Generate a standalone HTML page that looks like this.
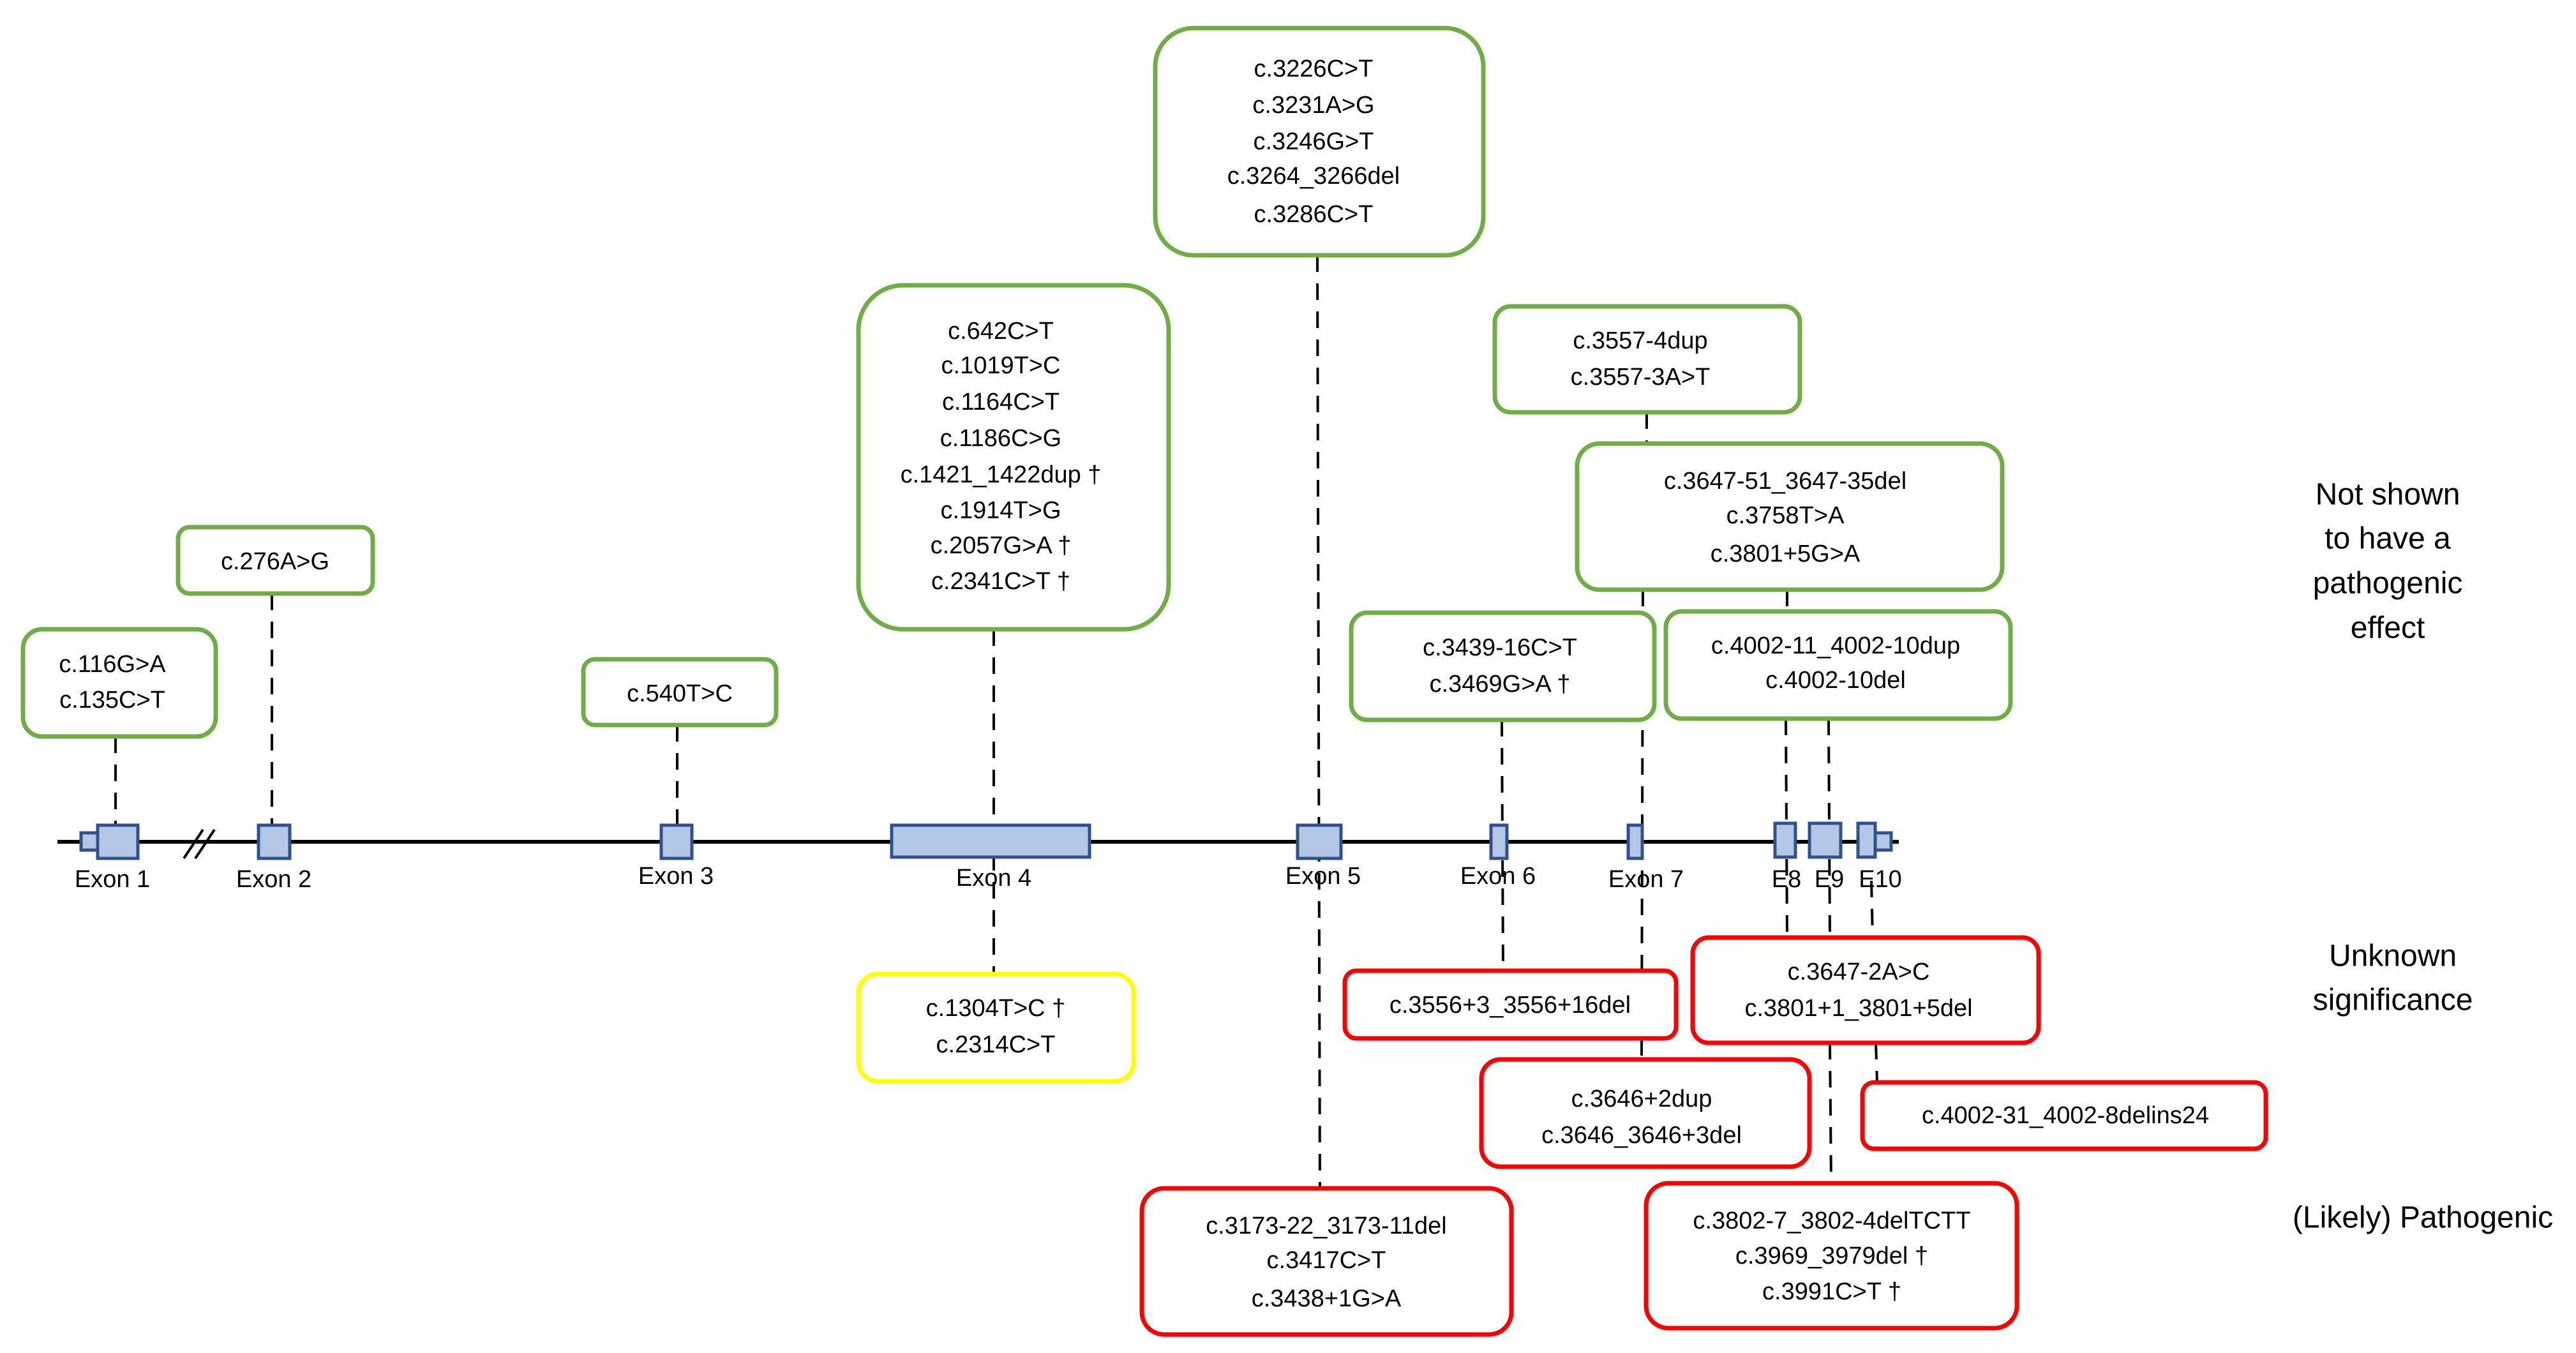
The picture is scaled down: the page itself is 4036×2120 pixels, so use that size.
<!DOCTYPE html>
<html><head><meta charset="utf-8"><style>
html,body{margin:0;padding:0;background:#fff;}
svg{display:block;}
text{font-family:"Liberation Sans",sans-serif;font-size:38px;fill:#000;}
</style></head><body>
<svg width="4036" height="2120" viewBox="0 0 4036 2120" xmlns="http://www.w3.org/2000/svg">
<g stroke="#000" stroke-width="4" stroke-dasharray="26,18" fill="none">
<line x1="181" y1="1154" x2="181" y2="1292"/>
<line x1="426" y1="930" x2="426" y2="1292"/>
<line x1="1061" y1="1136" x2="1061" y2="1292"/>
<line x1="1557" y1="986" x2="1557" y2="1526"/>
<line x1="2064" y1="400" x2="2068" y2="1862"/>
<line x1="2353" y1="1128" x2="2355" y2="1521"/>
<line x1="2580" y1="646" x2="2580" y2="695"/>
<line x1="2574" y1="924" x2="2572" y2="1660"/>
<line x1="2800" y1="924" x2="2800" y2="958"/>
<line x1="2798" y1="1126" x2="2800" y2="1469"/>
<line x1="2865" y1="1126" x2="2867" y2="1469"/>
<line x1="2867" y1="1634" x2="2869" y2="1854"/>
<line x1="2932" y1="1380" x2="2934" y2="1469"/>
<line x1="2939" y1="1634" x2="2941" y2="1696"/>
</g>
<line x1="90" y1="1319" x2="2975" y2="1319" stroke="#000" stroke-width="6"/>
<g stroke="#000" stroke-width="4"><line x1="288" y1="1345" x2="318" y2="1300"/><line x1="306" y1="1345" x2="336" y2="1300"/></g>
<g fill="#B4C7E7" stroke="#2F528F" stroke-width="5">
<rect x="127" y="1305" width="26" height="27"/>
<rect x="153" y="1293" width="63" height="52"/>
<rect x="405" y="1293" width="49" height="52"/>
<rect x="1036" y="1293" width="48" height="52"/>
<rect x="1397" y="1293" width="310" height="50"/>
<rect x="2033" y="1293" width="68" height="52"/>
<rect x="2336" y="1293" width="25" height="52"/>
<rect x="2551" y="1293" width="22" height="52"/>
<rect x="2781" y="1290" width="32" height="53"/>
<rect x="2835" y="1290" width="49" height="53"/>
<rect x="2911" y="1290" width="27" height="53"/>
<rect x="2938" y="1305" width="25" height="27"/>
</g>
<g text-anchor="middle" dominant-baseline="central" style="font-size:38px">
<text x="176" y="1378">Exon 1</text>
<text x="429" y="1378">Exon 2</text>
<text x="1059" y="1373">Exon 3</text>
<text x="1557" y="1376">Exon 4</text>
<text x="2073" y="1373">Exon 5</text>
<text x="2347" y="1373">Exon 6</text>
<text x="2579" y="1378">Exon 7</text>
<text x="2799" y="1378">E8</text>
<text x="2866" y="1378">E9</text>
<text x="2946" y="1378">E10</text>
</g>
<g fill="#fff" stroke="#70AD47" stroke-width="7">
<rect x="36" y="986" width="302" height="168" rx="30"/>
<rect x="279" y="826" width="305" height="104" rx="18"/>
<rect x="914" y="1033" width="302" height="103" rx="18"/>
<rect x="1345" y="447" width="486" height="539" rx="70"/>
<rect x="1810" y="44" width="514" height="356" rx="60"/>
<rect x="2342" y="480" width="478" height="166" rx="25"/>
<rect x="2471" y="695" width="666" height="229" rx="35"/>
<rect x="2117" y="960" width="475" height="168" rx="25"/>
<rect x="2610" y="958" width="540" height="168" rx="25"/>
</g>
<rect x="1345" y="1526" width="431" height="168" rx="30" fill="#fff" stroke="#FFFF00" stroke-width="7"/>
<g fill="#fff" stroke="#FF0000" stroke-width="7">
<rect x="2107" y="1521" width="519" height="106" rx="18"/>
<rect x="2652" y="1469" width="542" height="165" rx="25"/>
<rect x="2321" y="1660" width="514" height="168" rx="30"/>
<rect x="2918" y="1696" width="632" height="104" rx="18"/>
<rect x="1789" y="1862" width="579" height="229" rx="35"/>
<rect x="2579" y="1854" width="581" height="227" rx="35"/>
</g>
<g text-anchor="middle" dominant-baseline="central">
<text x="176" y="1041">c.116G&gt;A</text><text x="176" y="1097">c.135C&gt;T</text>
<text x="431" y="880">c.276A&gt;G</text>
<text x="1065" y="1087">c.540T&gt;C</text>
<text x="1568" y="519">c.642C&gt;T</text><text x="1568" y="573">c.1019T&gt;C</text><text x="1568" y="630">c.1164C&gt;T</text><text x="1568" y="687">c.1186C&gt;G</text><text x="1568" y="744">c.1421_1422dup †</text><text x="1568" y="800">c.1914T&gt;G</text><text x="1568" y="855">c.2057G&gt;A †</text><text x="1568" y="911">c.2341C&gt;T †</text>
<text x="2058" y="108">c.3226C&gt;T</text><text x="2058" y="165">c.3231A&gt;G</text><text x="2058" y="222">c.3246G&gt;T</text><text x="2058" y="276">c.3264_3266del</text><text x="2058" y="336">c.3286C&gt;T</text>
<text x="2570" y="534">c.3557-4dup</text><text x="2570" y="591">c.3557-3A&gt;T</text>
<text x="2797" y="754">c.3647-51_3647-35del</text><text x="2797" y="808">c.3758T&gt;A</text><text x="2797" y="868">c.3801+5G&gt;A</text>
<text x="2350" y="1015">c.3439-16C&gt;T</text><text x="2350" y="1072">c.3469G&gt;A †</text>
<text x="2876" y="1012">c.4002-11_4002-10dup</text><text x="2876" y="1066">c.4002-10del</text>
<text x="1560" y="1580">c.1304T&gt;C †</text><text x="1560" y="1637">c.2314C&gt;T</text>
<text x="2366" y="1575">c.3556+3_3556+16del</text>
<text x="2912" y="1523">c.3647-2A&gt;C</text><text x="2912" y="1580">c.3801+1_3801+5del</text>
<text x="2572" y="1722">c.3646+2dup</text><text x="2572" y="1779">c.3646_3646+3del</text>
<text x="3236" y="1748">c.4002-31_4002-8delins24</text>
<text x="2078" y="1921">c.3173-22_3173-11del</text><text x="2078" y="1975">c.3417C&gt;T</text><text x="2078" y="2035">c.3438+1G&gt;A</text>
<text x="2870" y="1913">c.3802-7_3802-4delTCTT</text><text x="2870" y="1968">c.3969_3979del †</text><text x="2870" y="2024">c.3991C&gt;T †</text>
</g>
<g text-anchor="middle" dominant-baseline="central">
<text x="3741" y="775" style="font-size:48px">Not shown</text>
<text x="3741" y="844" style="font-size:48px">to have a</text>
<text x="3741" y="914" style="font-size:48px">pathogenic</text>
<text x="3741" y="984" style="font-size:48px">effect</text>
<text x="3749" y="1498" style="font-size:48px">Unknown</text>
<text x="3749" y="1567" style="font-size:48px">significance</text>
<text x="3796" y="1908" style="font-size:48px">(Likely) Pathogenic</text>
</g>
</svg>
</body></html>
